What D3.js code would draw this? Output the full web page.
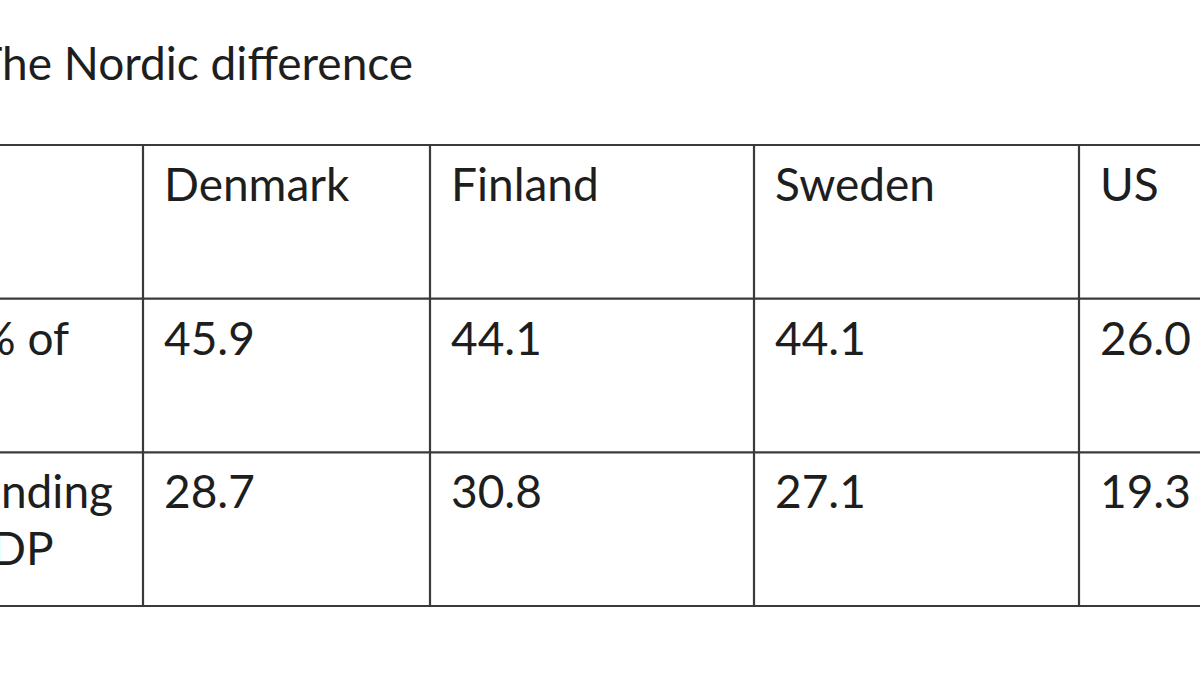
<!DOCTYPE html>
<html>
<head>
<meta charset="utf-8">
<script src="https://cdn.jsdelivr.net/npm/d3@7"></script>
<style>
  html, body { margin: 0; padding: 0; background: #fff; overflow: hidden; }
  svg text { font-family: Lato, "Open Sans", sans-serif; fill: #1e1e1e; }
</style>
</head>
<body>
<svg id="chart"></svg>
<script>
var title = "The Nordic difference";
var countries = ["Denmark", "Finland", "Sweden", "US"];
var rowLabels = [["Taxes as % of", "GDP"], ["Social spending", "as % of GDP"]];
var taxRevenue = [45.9, 44.1, 44.1, 26.0];
var socialSpending = [28.7, 30.8, 27.1, 19.3];
var rows = [taxRevenue, socialSpending];

var width = 1200, height = 675;
var fontSize = 46, lineHeight = 57;

var svg = d3.select("#chart")
    .attr("width", width)
    .attr("height", height);

// the screenshot is a crop: the label column runs off the left edge
var colEdges = [null, 143, 430, 754, 1079, 1404];

var y = d3.scaleBand()
    .domain(["header", "tax", "social"])
    .range([145, 606])
    .paddingInner(0);

var rowKeys = ["tax", "social"];

// title (its first letter sits just past the left edge)
var t = svg.append("text")
    .attr("y", 80)
    .style("font-size", fontSize + "px")
    .text(title);
var tW = t.node().getSubStringLength(0, 1);
t.attr("x", 2 - tW);

// place the label column so its longest line stops where the crop shows it
var probe = svg.append("text").style("font-size", fontSize + "px").text(rowLabels[1][0]);
var labelX = 113 - probe.node().getComputedTextLength();
probe.remove();

var pad = 21, baseOff = 56;
colEdges[0] = labelX - pad;

var x = d3.scaleOrdinal()
    .domain(["label"].concat(countries))
    .range(colEdges.slice(0, 5));

// grid lines
svg.selectAll(".hline")
    .data(y.domain().map(function(d) { return y(d); }).concat([y.range()[1]]))
  .enter().append("line")
    .attr("class", "hline")
    .attr("x1", -10).attr("x2", width + 10)
    .attr("y1", function(d) { return d; })
    .attr("y2", function(d) { return d; })
    .attr("stroke", "#3a3a3a")
    .attr("stroke-width", 2.2);

svg.selectAll(".vline")
    .data(colEdges.slice(1))
  .enter().append("line")
    .attr("class", "vline")
    .attr("x1", function(d) { return d; })
    .attr("x2", function(d) { return d; })
    .attr("y1", y.range()[0]).attr("y2", y.range()[1])
    .attr("stroke", "#3a3a3a")
    .attr("stroke-width", 2.2);

// header
svg.selectAll(".head")
    .data(countries)
  .enter().append("text")
    .attr("class", "head")
    .attr("x", function(d) { return x(d) + pad; })
    .attr("y", y("header") + baseOff)
    .style("font-size", fontSize + "px")
    .text(function(d) { return d; });

// row labels
rowLabels.forEach(function(lines, i) {
  var g = svg.append("text")
      .attr("x", x("label") + pad)
      .attr("y", y(rowKeys[i]) + baseOff)
      .style("font-size", fontSize + "px");
  g.selectAll("tspan")
      .data(lines)
    .enter().append("tspan")
      .attr("x", x("label") + pad)
      .attr("dy", function(d, j) { return j === 0 ? 0 : lineHeight; })
      .text(function(d) { return d; });
});

// values
rows.forEach(function(vals, i) {
  svg.selectAll(".val" + i)
      .data(vals)
    .enter().append("text")
      .attr("class", "val" + i)
      .attr("x", function(d, j) { return x(countries[j]) + pad; })
      .attr("y", y(rowKeys[i]) + baseOff)
      .style("font-size", fontSize + "px")
      .text(function(d) { return d3.format(".1f")(d); });
});
</script>
</body>
</html>
